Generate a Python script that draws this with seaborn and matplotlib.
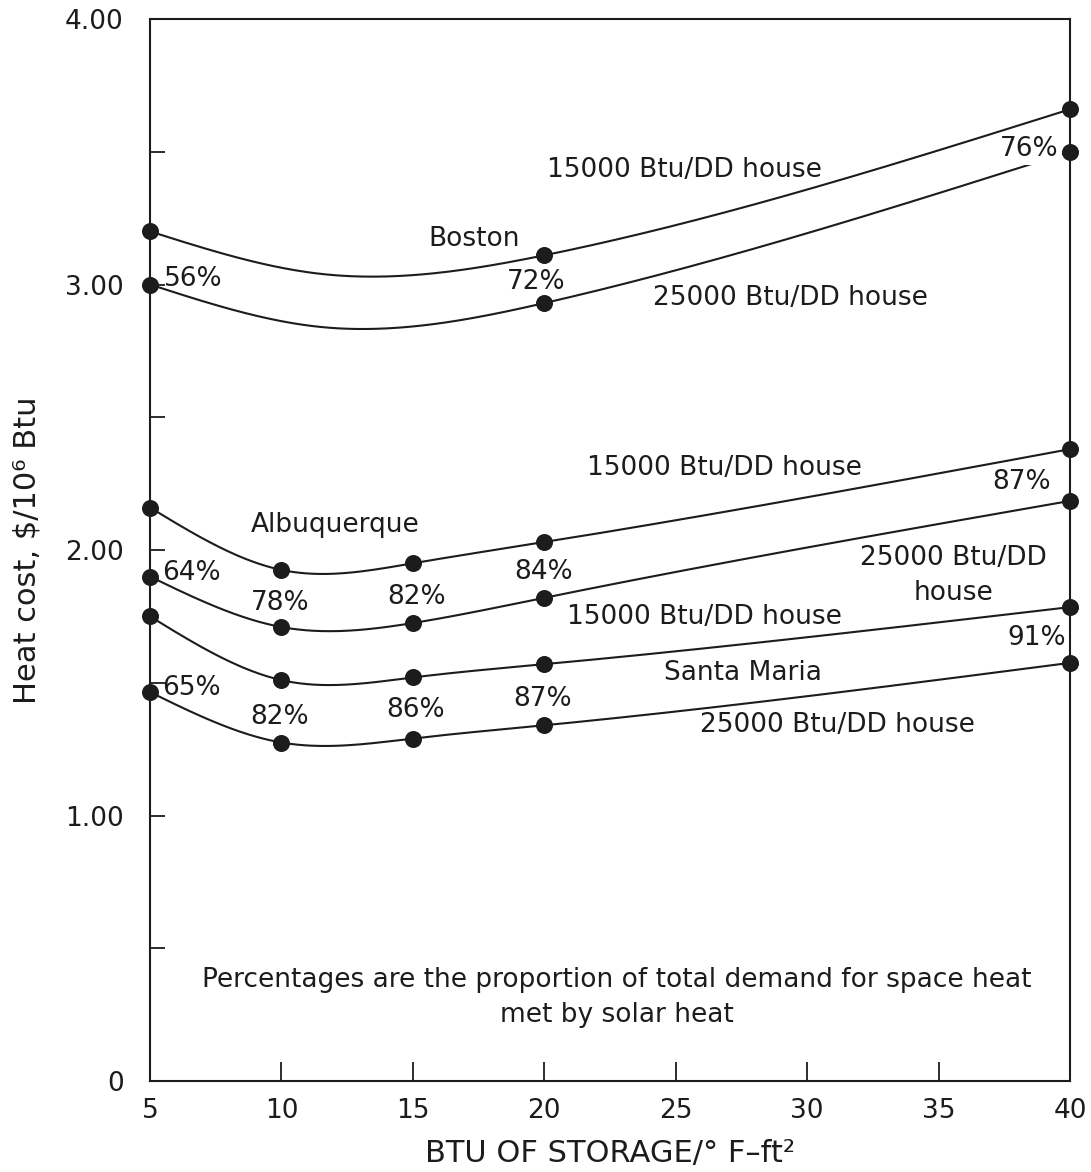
import numpy as np
import pandas as pd
import matplotlib
matplotlib.use("Agg")
import matplotlib.pyplot as plt
import seaborn as sns

# Storage capacity (Btu per °F per ft² of collector) at which costs were computed
storage = [5, 10, 15, 20, 40]
boston_storage = [5, 20, 40]

# Heat cost, $ per 10^6 Btu
boston_15000 = [3.20, 3.11, 3.66]
boston_25000 = [3.00, 2.93, 3.50]
albuquerque_15000 = [2.16, 1.925, 1.95, 2.03, 2.38]
albuquerque_25000 = [1.90, 1.71, 1.725, 1.82, 2.185]
santa_maria_15000 = [1.75, 1.51, 1.52, 1.57, 1.785]
santa_maria_25000 = [1.465, 1.275, 1.29, 1.34, 1.575]

# Low point of the faired Boston curves between the computed cases
boston_trough_x = 11.5
boston_trough = {"15000": 3.04, "25000": 2.84}

INK = "#1c1c1c"


def natural_spline(x, y, xs):
    """Natural cubic spline through (x, y), evaluated at xs."""
    x = np.asarray(x, float)
    y = np.asarray(y, float)
    n = len(x)
    h = np.diff(x)
    A = np.zeros((n, n))
    b = np.zeros(n)
    A[0, 0] = A[-1, -1] = 1.0
    for i in range(1, n - 1):
        A[i, i - 1] = h[i - 1]
        A[i, i] = 2 * (h[i - 1] + h[i])
        A[i, i + 1] = h[i]
        b[i] = 6 * ((y[i + 1] - y[i]) / h[i] - (y[i] - y[i - 1]) / h[i - 1])
    M = np.linalg.solve(A, b)
    idx = np.clip(np.searchsorted(x, xs) - 1, 0, n - 2)
    x0, x1 = x[idx], x[idx + 1]
    hh = x1 - x0
    return (M[idx] * (x1 - xs) ** 3 / (6 * hh)
            + M[idx + 1] * (xs - x0) ** 3 / (6 * hh)
            + (y[idx] / hh - M[idx] * hh / 6) * (x1 - xs)
            + (y[idx + 1] / hh - M[idx + 1] * hh / 6) * (xs - x0))


# Marker table
series = {
    "Boston 15000": (boston_storage, boston_15000),
    "Boston 25000": (boston_storage, boston_25000),
    "Albuquerque 15000": (storage, albuquerque_15000),
    "Albuquerque 25000": (storage, albuquerque_25000),
    "Santa Maria 15000": (storage, santa_maria_15000),
    "Santa Maria 25000": (storage, santa_maria_25000),
}
points = pd.concat(
    [pd.DataFrame({"series": k, "storage": xv, "cost": yv}) for k, (xv, yv) in series.items()],
    ignore_index=True,
)

# Smooth curve table
curve_parts = []
xs = np.linspace(5, 40, 400)
for k, (xv, yv) in series.items():
    cx, cy = list(xv), list(yv)
    if k.startswith("Boston"):
        cx = [xv[0], boston_trough_x] + list(xv[1:])
        cy = [yv[0], boston_trough[k.split()[1]]] + list(yv[1:])
    curve_parts.append(pd.DataFrame({"series": k, "storage": xs,
                                     "cost": natural_spline(cx, cy, xs)}))
curves = pd.concat(curve_parts, ignore_index=True)

sns.set_theme(style="white")
plt.rcParams["font.family"] = ["DejaVu Sans"]

fig = plt.figure(figsize=(10.91, 11.72), dpi=100)
ax = fig.add_axes([0.1375, 0.0776, 0.8433, 0.9062])

sns.lineplot(data=curves, x="storage", y="cost", units="series", estimator=None,
             sort=False, color=INK, linewidth=1.5, ax=ax, zorder=2, legend=False)
sns.scatterplot(data=points, x="storage", y="cost", color=INK, s=150,
                edgecolor=INK, linewidth=0, ax=ax, zorder=5, clip_on=False, legend=False)

ax.set_xlim(5, 40)
ax.set_ylim(0, 4)
ax.set_xticks(range(5, 41, 5))
ax.set_yticks([0, 1, 2, 3, 4])
ax.set_yticklabels(["0", "1.00", "2.00", "3.00", "4.00"])
ax.set_yticks([0.5, 1.5, 2.5, 3.5], minor=True)
ax.tick_params(axis="x", direction="in", length=14, width=1.3, color=INK,
               pad=12, labelsize=19, labelcolor=INK, bottom=True)
ax.tick_params(axis="y", which="both", direction="in", length=11, width=1.3,
               color=INK, pad=19, labelsize=19, labelcolor=INK, left=True)
for sp in ax.spines.values():
    sp.set_visible(True)
    sp.set_color(INK)
    sp.set_linewidth(1.5)

ax.set_xlabel("BTU OF STORAGE/° F–ft²", fontsize=22, color=INK, labelpad=11)
ax.set_ylabel("Heat cost, $/10⁶ Btu", fontsize=22, color=INK, labelpad=17)

fs = 19
labels = [
    (25.34, 3.43, "15000 Btu/DD house"),
    (17.32, 3.17, "Boston"),
    (6.63, 3.02, "56%"),
    (19.68, 3.01, "72%"),
    (29.37, 2.95, "25000 Btu/DD house"),
    (12.03, 2.094, "Albuquerque"),
    (26.86, 2.309, "15000 Btu/DD house"),
    (38.16, 2.256, "87%"),
    (35.55, 1.905, "25000 Btu/DD\nhouse"),
    (6.56, 1.913, "64%"),
    (9.94, 1.80, "78%"),
    (15.15, 1.823, "82%"),
    (19.98, 1.917, "84%"),
    (26.1, 1.748, "15000 Btu/DD house"),
    (27.55, 1.537, "Santa Maria"),
    (38.73, 1.669, "91%"),
    (6.56, 1.48, "65%"),
    (9.94, 1.371, "82%"),
    (15.11, 1.397, "86%"),
    (19.94, 1.439, "87%"),
    (31.16, 1.341, "25000 Btu/DD house"),
]
for x, y, t in labels:
    ax.text(x, y, t, ha="center", va="center", fontsize=fs, color=INK,
            linespacing=1.45, zorder=3)

# the Boston 25000 curve stops short of the 76% note
ax.text(38.46, 3.51, "76%", ha="center", va="center", fontsize=fs, color=INK, zorder=4,
        bbox=dict(boxstyle="square,pad=0.12", facecolor="white", edgecolor="none"))

ax.text(22.76, 0.315,
        "Percentages are the proportion of total demand for space heat\nmet by solar heat",
        ha="center", va="center", fontsize=19, color=INK, linespacing=1.45, zorder=3)

fig.savefig("out.png", dpi=100, facecolor="white")
